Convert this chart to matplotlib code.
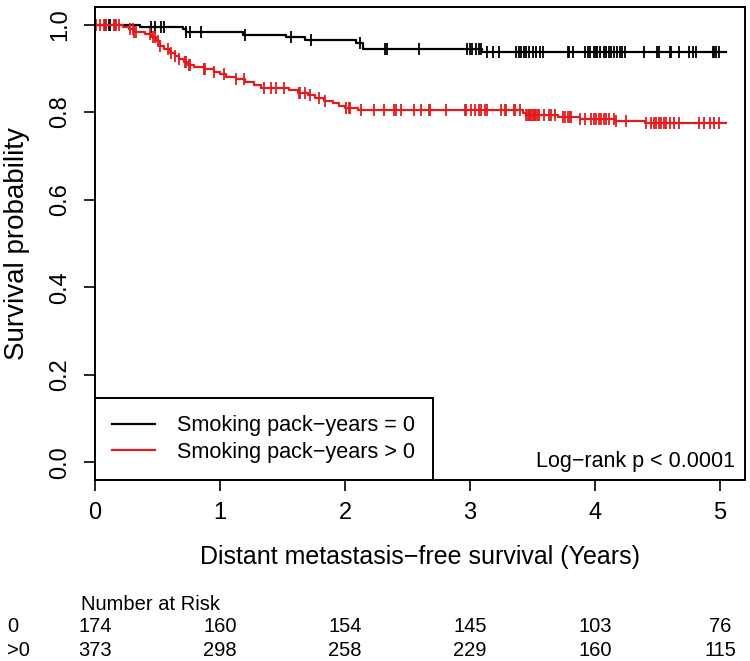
#Kaplan-Meier style plot of distant metastasis-free survival by smoking pack-years
#with number-at-risk table below the axes
import matplotlib.pyplot as plt
import matplotlib.transforms as mtransforms
import numpy as np

plt.rcParams['font.family'] = ['Liberation Sans', 'DejaVu Sans']

#group 0 (pack-years = 0): drop times and survival after drop
t0 = [0.0, 0.36, 0.70, 0.73, 1.18, 1.53, 1.68, 2.09, 2.14, 3.10]
s0 = [1.0, 0.995, 0.989, 0.983, 0.977, 0.971, 0.964, 0.957, 0.945, 0.938]
end0 = 5.05
cens0 = [0.08, 0.11, 0.12, 0.45, 0.48, 0.53, 0.55, 0.73, 0.76, 0.85, 1.20, 1.57, 1.73,
         2.12, 2.32, 2.34, 2.59, 2.98, 3.00, 3.02, 3.05, 3.07, 3.09, 3.14, 3.18, 3.23,
         3.37, 3.39, 3.41, 3.43, 3.45, 3.47, 3.50, 3.53, 3.56, 3.58, 3.78, 3.79, 3.82,
         3.92, 3.94, 3.96, 3.99, 4.01, 4.02, 4.04, 4.07, 4.09, 4.11, 4.13, 4.15, 4.18,
         4.20, 4.22, 4.24, 4.39, 4.50, 4.51, 4.60, 4.61, 4.67, 4.75, 4.78, 4.81, 4.94,
         4.95, 4.97, 4.99]

#group >0 (pack-years > 0)
t1 = [0.0, 0.22, 0.27, 0.31, 0.40, 0.45, 0.49, 0.52, 0.55, 0.60, 0.64, 0.67, 0.71, 0.74,
      0.79, 0.87, 0.95, 1.00, 1.05, 1.13, 1.20, 1.27, 1.33, 1.55, 1.62, 1.70, 1.76, 1.83,
      1.90, 1.95, 2.00, 2.10, 3.42, 3.45, 3.70, 3.88, 4.16, 4.40]
s1 = [1.0, 0.995, 0.990, 0.983, 0.978, 0.972, 0.962, 0.952, 0.945, 0.936, 0.929, 0.922,
      0.915, 0.908, 0.903, 0.898, 0.892, 0.886, 0.881, 0.875, 0.868, 0.861, 0.855, 0.850,
      0.844, 0.838, 0.832, 0.826, 0.820, 0.815, 0.810, 0.805, 0.797, 0.793, 0.789, 0.784,
      0.779, 0.774]
end1 = 5.05
cens1 = [0.01, 0.04, 0.07, 0.09, 0.15, 0.16, 0.17, 0.19, 0.28, 0.30, 0.31, 0.33, 0.44,
         0.46, 0.48, 0.50, 0.52, 0.58, 0.61, 0.64, 0.67, 0.72, 0.73, 0.75, 0.76, 0.87,
         0.88, 0.95, 1.03, 1.13, 1.19, 1.35, 1.41, 1.45, 1.51, 1.63, 1.64, 1.68, 1.72,
         1.79, 1.84, 2.01, 2.03, 2.04, 2.13, 2.23, 2.31, 2.39, 2.41, 2.45, 2.55, 2.61,
         2.67, 2.68, 2.81, 2.96, 2.97, 3.01, 3.04, 3.07, 3.09, 3.12, 3.14, 3.25, 3.28,
         3.29, 3.35, 3.36, 3.40, 3.45, 3.46, 3.47, 3.48, 3.49, 3.50, 3.51, 3.52, 3.53,
         3.54, 3.55, 3.59, 3.63, 3.65, 3.68, 3.74, 3.76, 3.78, 3.80, 3.81, 3.88, 3.92,
         3.97, 3.99, 4.01, 4.03, 4.05, 4.07, 4.09, 4.11, 4.15, 4.17, 4.25, 4.41, 4.45,
         4.47, 4.49, 4.51, 4.53, 4.55, 4.57, 4.60, 4.63, 4.67, 4.83, 4.87, 4.92, 4.95,
         4.99]

labels = ["Smoking pack\u2212years = 0", "Smoking pack\u2212years > 0"]
colors = ["black", "#e41a1c"]

#number at risk
risk_times = [0, 1, 2, 3, 4, 5]
risk_names = ["0", ">0"]
risk0 = [174, 160, 154, 145, 103, 76]
risk1 = [373, 298, 258, 229, 160, 115]

fig = plt.figure(figsize=(7.5, 6.61), dpi=100)
ax = fig.add_axes([95/750, 1-480/661, 650/750, 473/661])

def step_xy(t, s, end):
    x = np.append(t, end)
    y = np.append(s, s[-1])
    return x, y

def surv_at(t, s, tc):
    idx = np.searchsorted(t, tc, side='right') - 1
    return np.array(s)[idx]

for t, s, end, cens, lab, col in [(t0, s0, end0, cens0, labels[0], colors[0]),
                                  (t1, s1, end1, cens1, labels[1], colors[1])]:
    x, y = step_xy(t, s, end)
    ax.step(x, y, where='post', color=col, lw=1.6, label=lab)
    ax.plot(cens, surv_at(t, s, cens), ls='none', marker='|', ms=9, mew=1.3, color=col)

ax.set_xlim(0, 5.2)
ax.set_ylim(-0.04, 1.04)
ax.set_xticks(risk_times)
ax.set_yticks([0, 0.2, 0.4, 0.6, 0.8, 1.0])
ax.set_yticklabels(["0.0", "0.2", "0.4", "0.6", "0.8", "1.0"], rotation=90, va='center')
ax.tick_params(direction='out', length=8, width=1.2, labelsize=17)
ax.tick_params(axis='x', pad=8)
ax.tick_params(axis='y', pad=9)
for sp in ax.spines.values():
    sp.set_linewidth(1.4)
ax.set_ylabel("Survival probability", fontsize=20)
ax.yaxis.set_label_coords(-(95-17)/650, 0.5)
ax.set_xlabel("Distant metastasis\u2212free survival (Years)", fontsize=18)
ax.xaxis.set_label_coords(0.5, -(557-480)/473)
ax.xaxis.label.set_va('center')
ax.yaxis.label.set_va('center')

leg = ax.legend(loc='lower left', borderaxespad=0, fancybox=False, edgecolor='black',
                fontsize=15.6, handlelength=1.95, handletextpad=1.05, borderpad=0.8,
                labelspacing=0.25)
leg.get_frame().set_linewidth(1.4)
leg.get_frame().set_alpha(1)

ax.text((735-95)/650, (480-462)/473, "Log\u2212rank p < 0.0001", transform=ax.transAxes,
        ha='right', va='center', fontsize=15.5)

#risk table
trans = mtransforms.blended_transform_factory(ax.transData, fig.transFigure)
fig.text(81/750, 1-604/661, "Number at Risk", fontsize=14.5, va='center', ha='left')
for row, (name, vals) in enumerate(zip(risk_names, [risk0, risk1])):
    yy = 1 - (627 + 23*row)/661
    fig.text(7/750, yy, name, fontsize=14.5, va='center', ha='left')
    for tt, v in zip(risk_times, vals):
        ax.text(tt, yy, str(v), transform=trans, fontsize=14.5, va='center', ha='center',
                clip_on=False)

fig.savefig("out.png", dpi=100)
